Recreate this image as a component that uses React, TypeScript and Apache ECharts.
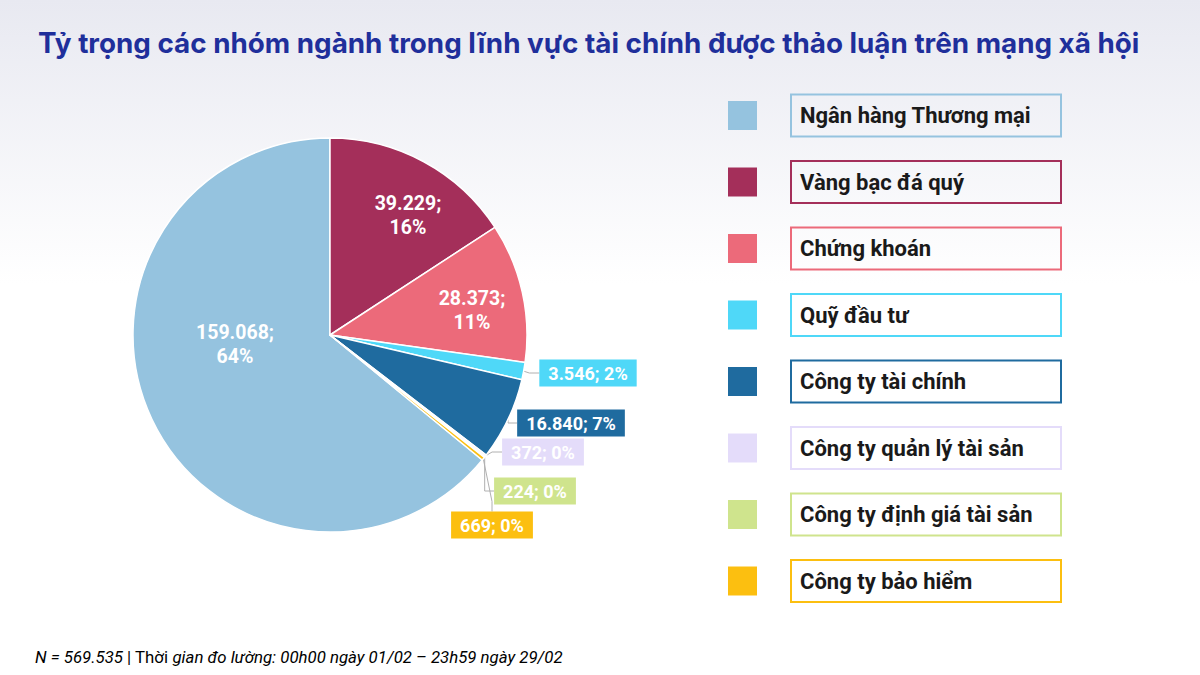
import React, { useEffect, useRef } from "react";
import * as echarts from "echarts";

const titleText =
  "Tỷ trọng các nhóm ngành trong lĩnh vực tài chính được thảo luận trên mạng xã hội";
const categories = [
  "Ngân hàng Thương mại",
  "Vàng bạc đá quý",
  "Chứng khoán",
  "Quỹ đầu tư",
  "Công ty tài chính",
  "Công ty quản lý tài sản",
  "Công ty định giá tài sản",
  "Công ty bảo hiểm",
];
const values = [159068, 39229, 28373, 3546, 16840, 372, 224, 669];
const percents = [64, 16, 11, 2, 7, 0, 0, 0];
const footN = "N = 569.535";
const footMid = " | Thời ";
const footRest = "gian đo lường: 00h00 ngày 01/02 – 23h59 ngày 29/02";

// styles
const colors = ["#95c3df", "#a42f5a", "#ec6a7a", "#4fd8f8", "#1f6b9f", "#e4dcfa", "#cfe48d", "#fcbf10"];
const insideLabel = [true, true, true, false, false, false, false, false];
const labelPos: number[][] = [
  [235, 344],
  [408, 215],
  [472, 310],
  [588, 373],
  [571, 423],
  [543, 452],
  [535, 491],
  [492, 525],
];

const fmt = (v: number) => v.toString().replace(/\B(?=(\d{3})+(?!\d))/g, ".");

export default function App() {
  const ref = useRef<HTMLDivElement>(null);
  useEffect(() => {
    if (!ref.current) return;
    const chart = echarts.init(ref.current, undefined, { renderer: "svg" });
    const total = values.reduce((a, b) => a + b, 0);
    const font = "Roboto, 'Noto Sans', sans-serif";

    const data = categories.map((name, i) => {
      const pct = percents[i];
      const inside = insideLabel[i];
      return {
        name,
        value: values[i],
        itemStyle: { color: colors[i] },
        label: inside
          ? {
              show: true,
              position: "inside",
              formatter: `${fmt(values[i])};\n${pct}%`,
              color: "#ffffff",
              fontSize: 19.5,
              fontWeight: "bold",
              fontFamily: font,
              lineHeight: 24,
              align: "center",
            }
          : {
              show: true,
              position: "outside",
              formatter: `${fmt(values[i])}; ${pct}%`,
              color: "#ffffff",
              fontSize: 18,
              fontWeight: "bold",
              fontFamily: font,
              backgroundColor: colors[i],
              padding: [5, 9, 4, 9],
            },
        labelLine: inside
          ? { show: false }
          : { show: true, length: 10, length2: 10, lineStyle: { color: "#b0b0b0", width: 1 } },
      };
    });

    const rowY = (i: number) => 115.5 + i * 66.5;
    const legendGraphics: any[] = [];
    categories.forEach((name, i) => {
      const cy = rowY(i);
      legendGraphics.push({
        type: "rect",
        shape: { x: 728, y: cy - 14.5, width: 29, height: 29 },
        style: { fill: colors[i] },
      });
      legendGraphics.push({
        type: "rect",
        shape: { x: 791, y: cy - 21, width: 270, height: 42 },
        style: { fill: "rgba(255,255,255,0)", stroke: colors[i], lineWidth: 2 },
      });
      legendGraphics.push({
        type: "text",
        x: 800,
        y: cy,
        style: {
          text: name,
          fill: "#1a1a1a",
          font: `bold 22px ${font}`,
          verticalAlign: "middle",
        },
      });
    });

    const option: any = {
      animation: false,
      backgroundColor: {
        type: "linear",
        x: 0,
        y: 0,
        x2: 0,
        y2: 1,
        colorStops: [
          { offset: 0, color: "#e8e9f1" },
          { offset: 0.42, color: "#ffffff" },
          { offset: 1, color: "#ffffff" },
        ],
      },
      title: {
        text: titleText,
        left: 33,
        top: 24,
        textStyle: {
          fontSize: 27.8,
          fontWeight: "bold",
          color: "#1f2f9b",
          fontFamily: "Inter, Roboto, sans-serif",
        },
      },
      series: [
        {
          type: "pie",
          center: [330, 335],
          radius: 197,
          startAngle: 90 + (360 * values[0]) / total,
          clockwise: true,
          avoidLabelOverlap: false,
          minShowLabelAngle: 0,
          itemStyle: { borderColor: "#ffffff", borderWidth: 1.5 },
          emphasis: { disabled: true },
          data,
          labelLayout: (params: any) => {
            const p = labelPos[params.dataIndex];
            return { x: p[0], y: p[1], align: "center", verticalAlign: "middle" };
          },
        },
      ],
      graphic: [
        ...legendGraphics,
        {
          type: "text",
          x: 35,
          y: 657,
          style: {
            text: `{i|${footN}}{n|${footMid}}{i|${footRest}}`,
            verticalAlign: "middle",
            rich: {
              i: { fontStyle: "italic", fontSize: 16.8, fontFamily: font, color: "#333333" },
              n: { fontSize: 16.8, fontFamily: font, color: "#333333" },
            },
          },
        },
      ],
    };
    chart.setOption(option);
    return () => chart.dispose();
  }, []);
  return (
    <div
      ref={ref}
      style={{ position: "absolute", left: 0, top: 0, width: 1200, height: 675 }}
    />
  );
}
